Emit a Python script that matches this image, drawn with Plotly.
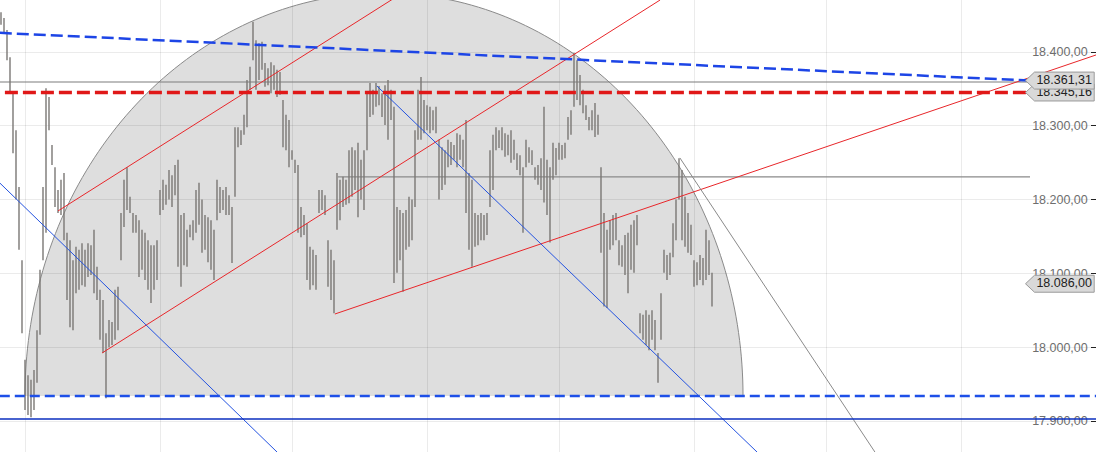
import numpy as np
import plotly.graph_objects as go

# ---------------- data ----------------
highs = [18454,18446,18430,18393,18344,18294,18217,18118,17983,17962,
         17956,17969,18023,18105,18217,18351,18339,18274,18244,18213,
         18227,18236,18155,18145,18118,18136,18132,18141,18132,18141,
         18138,18159,18109,18078,18064,18019,18037,18034,18078,18082,
         18182,18227,18244,18204,18182,18179,18172,18159,18155,18145,
         18138,18138,18145,18213,18227,18220,18240,18233,18247,18254,
         18179,18182,18159,18166,18172,18213,18223,18200,18179,18176,
         18172,18159,18227,18217,18213,18217,18206,18190,18298,18298,
         18294,18315,18362,18380,18441,18416,18412,18414,18385,18378,
         18386,18382,18376,18373,18335,18315,18308,18267,18254,18247,
         18190,18179,18168,18136,18132,18125,18213,18213,18206,18145,
         18132,18118,18236,18227,18231,18227,18267,18271,18267,18277,
         18254,18267,18344,18358,18349,18358,18354,18344,18355,18362,
         18349,18326,18190,18186,18182,18186,18204,18200,18294,18349,
         18366,18335,18328,18326,18321,18326,18281,18271,18267,18281,
         18278,18274,18290,18288,18281,18308,18236,18227,18182,18179,
         18182,18179,18182,18267,18288,18298,18294,18298,18290,18288,
         18294,18281,18263,18260,18244,18281,18271,18267,18244,18247,
         18256,18326,18254,18244,18277,18270,18277,18274,18277,18312,
         18321,18399,18389,18369,18349,18328,18312,18321,18331,18315,
         18244,18182,18159,18172,18179,18182,18145,18138,18152,18155,
         18166,18172,18179,18046,18044,18050,18044,18050,18037,17992,
         18073,18132,18125,18128,18168,18200,18256,18240,18204,18182,
         18166,18118,18115,18125,18121,18159,18145,18101]
lows = [18437,18426,18389,18344,18263,18200,18132,18019,17915,17908,
        17905,17915,17952,18017,18118,18155,18294,18247,18190,18182,
        18179,18145,18064,18027,18023,18073,18078,18084,18082,18095,
        18098,18073,18064,18010,17992,17931,18000,18003,18010,18023,
        18118,18163,18186,18182,18155,18155,18095,18105,18091,18078,
        18060,18078,18091,18179,18186,18193,18200,18190,18206,18109,
        18082,18111,18109,18149,18145,18155,18166,18128,18132,18115,
        18105,18091,18172,18182,18186,18179,18179,18114,18204,18271,
        18274,18288,18298,18349,18389,18349,18362,18376,18353,18355,
        18344,18349,18339,18342,18271,18267,18244,18254,18236,18155,
        18149,18152,18091,18078,18084,18078,18182,18186,18179,18082,
        18064,18046,18159,18172,18190,18193,18195,18204,18213,18176,
        18200,18186,18267,18312,18315,18326,18328,18312,18301,18281,
        18308,18087,18101,18118,18075,18132,18136,18145,18190,18281,
        18281,18290,18294,18290,18294,18290,18200,18213,18220,18244,
        18247,18254,18244,18254,18244,18182,18132,18109,18136,18138,
        18145,18145,18152,18190,18213,18267,18270,18267,18258,18260,
        18250,18254,18240,18233,18155,18244,18250,18247,18227,18220,
        18213,18196,18179,18142,18227,18233,18254,18254,18256,18281,
        18288,18326,18335,18328,18317,18308,18294,18294,18285,18288,
        18128,18055,18053,18132,18138,18145,18111,18109,18098,18073,
        18105,18101,18138,18019,18010,18003,17996,18010,17996,17952,
        18010,18101,18091,18098,18122,18145,18200,18145,18136,18128,
        18125,18082,18084,18091,18084,18091,18098,18055]

y_ticks = [17900, 18000, 18100, 18200, 18300, 18400]
x_grid = [8, 53, 97, 142, 186, 231, 275, 320]

# drawings: (bar index, price) end points
blue_dash_slope = ([-0.4, 343], [18426, 18361.31])
red_dash_level = ([1.3, 342], [18345.16, 18345.16])
gray_level_hi = ([-0.4, 343], [18359.4, 18359.4])
gray_level_mid = ([112.3, 343], [18230.7, 18230.7])
blue_dash_level = ([-0.4, 366], [17934, 17934])
navy_level = ([-0.4, 366], [17902.7, 17902.7])
red_chan_upper = ([19, 133], [18184.6, 18478])
red_chan_lower = ([33.7, 219.7], [17992.2, 18470.5])
red_support = ([111.3, 365], [18045, 18396])
blue_line_left = ([-0.4, 92], [18222.5, 17858])
blue_line_right = ([125.3, 252], [18354, 17858])
gray_slope = ([226.3, 291.3], [18256.5, 17858])

arc_cx, arc_base, arc_rx, arc_ry = 127.67, 17934, 119.67, 546

price_labels = [(18345.16, "18.345,16"), (18361.31, "18.361,31"), (18086.00, "18.086,00")]

# ---------------- figure ----------------
fig = go.Figure()

# arc shape (half ellipse)
th = np.linspace(np.pi, 0, 160)
ax = arc_cx + arc_rx * np.cos(th)
ay = arc_base + arc_ry * np.sin(th)
path = "M " + " L ".join(f"{a:.3f},{b:.3f}" for a, b in zip(ax, ay))
fig.add_shape(type="path", path=path, xref="x", yref="y", layer="below",
              fillcolor="#dedede", line=dict(color="#8a8a8a", width=1))

def seg(pts, color, width, dash="solid"):
    fig.add_trace(go.Scatter(x=pts[0], y=pts[1], mode="lines",
                             line=dict(color=color, width=width, dash=dash),
                             hoverinfo="skip"))

seg(gray_level_hi, "#7d7d7d", 1.2)
seg(gray_level_mid, "#8a8a8a", 1.2)

# price bars (high-low)
bx, by = [], []
for i, (h, l) in enumerate(zip(highs, lows)):
    bx += [i, i, None]
    by += [l, h, None]
fig.add_trace(go.Scatter(x=bx, y=by, mode="lines",
                         line=dict(color="#7a7774", width=1.4), hoverinfo="skip"))

seg(red_chan_upper, "#e8262a", 1)
seg(red_chan_lower, "#e8262a", 1)
seg(red_support, "#e8262a", 1)
seg(blue_line_left, "#2453e0", 1)
seg(blue_line_right, "#2453e0", 1)
seg(gray_slope, "#8a8a8a", 1)
seg(navy_level, "#0b2fbf", 1.5)
seg(blue_dash_level, "#1d4fe8", 2.5, "10px,5px")
seg(blue_dash_slope, "#1d45e6", 2.5, "12px,5px")
seg(red_dash_level, "#e01818", 3.5, "13px,5px")

# price label boxes on the right
half = 11.5
for price, txt in price_labels:
    xs_box = [341.5, 344.5, 364.4, 364.4, 344.5, 341.5]
    ys_box = [price, price + half, price + half, price - half, price - half, price]
    fig.add_trace(go.Scatter(x=xs_box, y=ys_box, mode="lines", fill="toself",
                             fillcolor="#d9d9d9", line=dict(color="#9a9a9a", width=1),
                             hoverinfo="skip"))
    fig.add_trace(go.Scatter(x=[354.4], y=[price], mode="text", text=[txt],
                             textposition="middle center",
                             textfont=dict(family="Liberation Sans, Arial", size=12.5, color="#222222"),
                             hoverinfo="skip"))

fig.update_layout(
    width=1096, height=452,
    margin=dict(l=0, r=0, t=0, b=0),
    paper_bgcolor="white", plot_bgcolor="white",
    showlegend=False, separators=",.",
    font=dict(family="Liberation Sans, Arial", size=12, color="#707070"),
)
fig.update_xaxes(range=[-1/3, 365], tickvals=x_grid, showticklabels=False,
                 showgrid=True, gridcolor="rgba(0,0,0,0.08)", zeroline=False,
                 showline=False, ticks="")
fig.update_yaxes(range=[17858, 18470.5], side="right", tickvals=y_ticks,
                 tickformat=",.2f", ticklabelposition="inside", ticks="inside",
                 ticklen=5, tickcolor="#222222", tickwidth=1, ticklabelstandoff=3,
                 tickfont=dict(family="Liberation Sans, Arial", size=12.5, color="#6e6e6e"),
                 showline=True, linecolor="#8c8c8c", linewidth=1.5,
                 showgrid=True, gridcolor="rgba(0,0,0,0.08)", zeroline=False,
                 layer="below traces")

fig.write_html("out.html", config={"displayModeBar": False},
               post_script="document.body.style.margin='0px';document.body.style.overflow='hidden';")
